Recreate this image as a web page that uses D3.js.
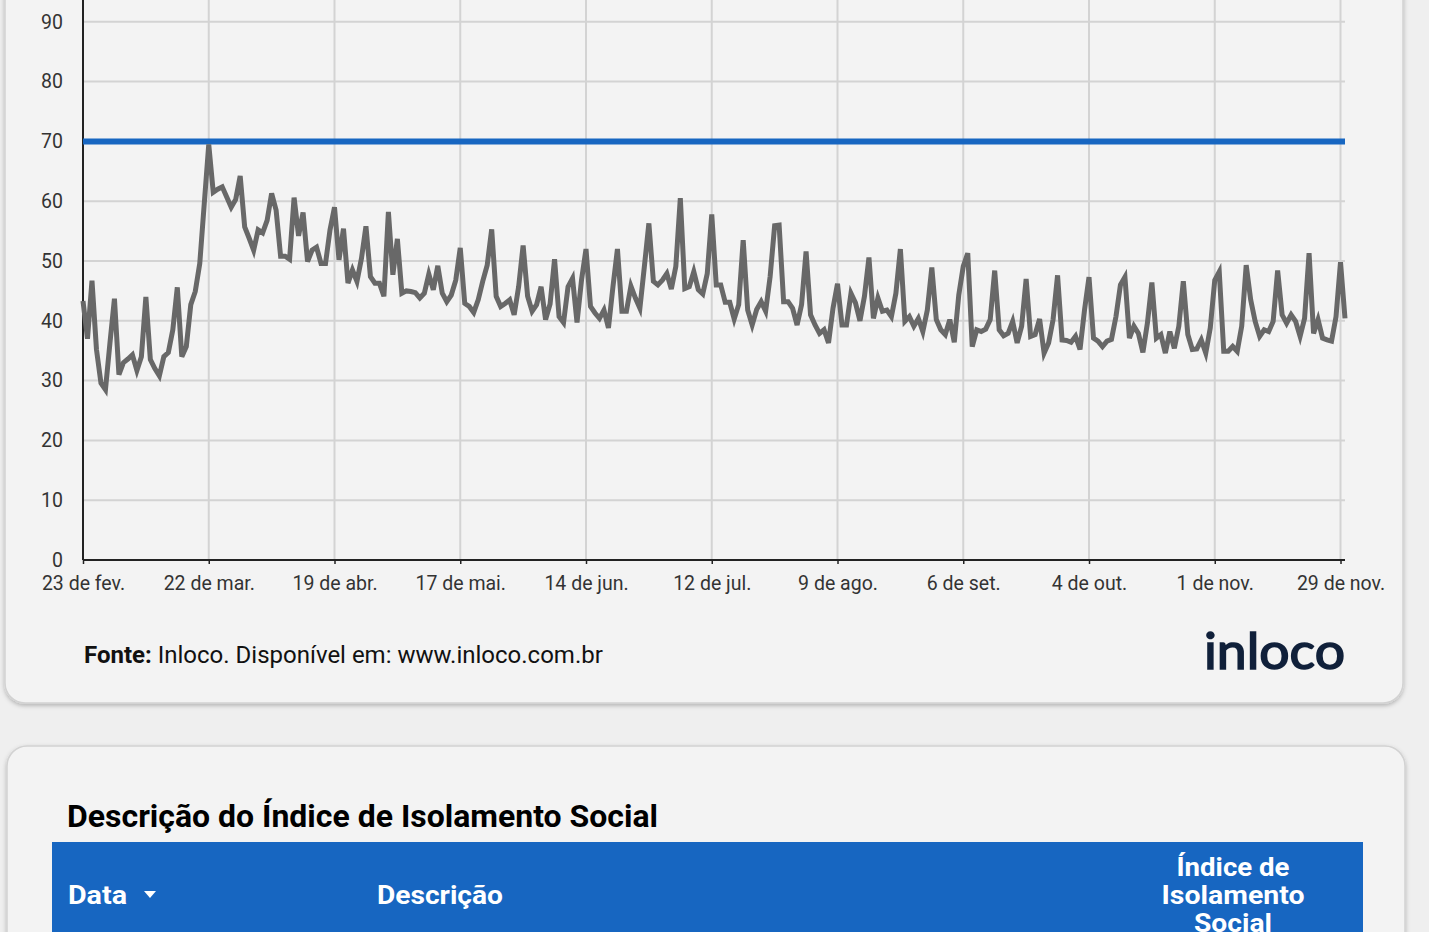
<!DOCTYPE html>
<html>
<head>
<meta charset="utf-8">
<script src="https://cdn.jsdelivr.net/npm/d3@7"></script>
<style>
  body { margin: 0; background: #efefef; overflow: hidden; }
  svg { display: block; font-family: Roboto, "Noto Sans", sans-serif; }
</style>
</head>
<body>
<svg id="chart"></svg>
<script>
// daily isolation index, starting 23 Feb 2020
var startDay = "2020-02-23";
var isolationValues = [
  43.3, 37, 46.7, 35.2, 29.6, 28.5, 36.3, 43.7, 31, 33,
  33.6, 34.3, 31.7, 34, 44, 33.5, 32, 30.8, 34, 34.7,
  38.5, 45.6, 34, 35.7, 42.7, 44.9, 49.6, 59.6, 69.5, 61.5,
  62, 62.4, 60.7, 59, 60.3, 64.2,
  55.7, 53.8, 51.8, 55.2, 54.7, 56.8, 61.3, 58.5, 50.8, 50.8,
  50.3, 60.6, 54.2, 58.1, 49.9, 51.8, 52.3, 49.6, 49.6, 55.2,
  59, 50.2, 55.4, 46.3, 48.5, 46.6, 50.4, 55.8, 47.4, 46.3,
  46.3, 44.1, 58.2, 47.7,
  53.7, 44.6, 45, 44.9, 44.7, 43.8, 44.6, 47.8, 45.2, 49.2,
  44.6, 43.2, 44.3, 46.8, 52.2, 42.9, 42.4, 41.4, 43.5, 46.6,
  49.3, 55.3, 44.1, 42.4, 42.9, 43.5, 41, 45.7, 52.6, 44.1,
  41.6, 42.7, 45.7, 40.2, 42.8,
  50.3, 40.7, 39.7, 45.7, 47.1, 39.7, 46.8, 52, 42.4, 41.3,
  40.4, 41.8, 38.8, 45.7, 52, 41.6, 41.6, 45.8, 43.8, 42.1,
  49.1, 56.3, 46.6, 46, 46.8, 47.9, 45.3, 49.1, 60.5, 45.4,
  45.7, 48.2, 45.2, 44.5,
  47.9, 57.8, 46, 46, 43.1, 43.1, 40.3, 42.7, 53.5, 41.8,
  39.3, 41.9, 43.2, 41.6, 47.4, 55.9, 56, 43.2, 43.2, 42.1,
  39.3, 42.7, 51.6, 41, 39.3, 37.9, 38.5, 36.3, 42.1, 46.2,
  39.3, 39.3, 44.6, 43, 40,
  44.1, 50.6, 40.4, 43.8, 41.6, 41.8, 40.7, 44.6, 52, 39.9,
  40.7, 39.1, 40.4, 38.2, 41.8, 48.9, 40.2, 38.5, 37.7, 40.2,
  36.4, 44.3, 49.1, 51.3, 35.7, 38.5, 38.2, 38.6, 40.2, 48.4,
  38.5, 37.5, 37.9, 39.9,
  36.3, 39.1, 47, 37.4, 37.7, 40.3, 34.6, 36.3, 40.2, 47.6,
  36.8, 36.7, 36.4, 37.4, 35.2, 41.8, 47.3, 37.1, 36.6, 35.7,
  36.6, 36.9, 40.7, 46, 47.3, 37.1, 39.1, 37.9, 34.7, 39.6,
  46.4, 37.1, 37.7, 34.6,
  38.2, 35.4, 39.1, 46.6, 37.7, 35.2, 35.3, 36.8, 34.6, 38.8,
  46.8, 48.2, 34.9, 34.9, 35.7, 34.9, 39.1, 49.3, 43.5, 39.9,
  37.4, 38.5, 38.2, 39.9, 48.4, 41, 39.6, 41, 39.9, 37.4,
  40.4, 51.3, 37.9, 40.2, 37.1, 36.8, 36.6, 40.7, 49.8, 40.4
];
var targetValue = 70;
var tickDays = ["2020-02-23", "2020-03-22", "2020-04-19", "2020-05-17", "2020-06-14", "2020-07-12",
                "2020-08-09", "2020-09-06", "2020-10-04", "2020-11-01", "2020-11-29"];
var tickLabels = ["23 de fev.", "22 de mar.", "19 de abr.", "17 de mai.", "14 de jun.", "12 de jul.",
                  "9 de ago.", "6 de set.", "4 de out.", "1 de nov.", "29 de nov."];
var yTicks = [0, 10, 20, 30, 40, 50, 60, 70, 80, 90];
var sourceBold = "Fonte:";
var sourceText = " Inloco. Disponível em: www.inloco.com.br";
var tableTitle = "Descrição do Índice de Isolamento Social";
var headerCols = ["Data", "Descrição"];
var headerIndex = ["Índice de", "Isolamento", "Social"];

var screen = {width: 1429, height: 932};
var plot = {left: 83, right: 1345, top: -38, bottom: 560};

var parse = d3.timeParse("%Y-%m-%d");
var t0 = parse(startDay);
var series = isolationValues.map(function(v, i){
    return {date: d3.timeDay.offset(t0, i), value: v};
});

var svg = d3.select("#chart")
    .attr("width", screen.width)
    .attr("height", screen.height);

var defs = svg.append("defs");
var shadow = defs.append("filter").attr("id", "shadow")
    .attr("x", "-5%").attr("y", "-5%").attr("width", "110%").attr("height", "115%");
shadow.append("feDropShadow")
    .attr("dx", 0).attr("dy", 2).attr("stdDeviation", 2)
    .attr("flood-color", "#000").attr("flood-opacity", 0.25);

// cards
svg.append("rect")
    .attr("x", 5).attr("y", -60).attr("width", 1398).attr("height", 763)
    .attr("rx", 20)
    .attr("fill", "#f3f3f3").attr("stroke", "#d2d2d2").attr("stroke-width", 1.5)
    .attr("filter", "url(#shadow)");
svg.append("rect")
    .attr("x", 7).attr("y", 746).attr("width", 1398).attr("height", 260)
    .attr("rx", 20)
    .attr("fill", "#f3f3f3").attr("stroke", "#d2d2d2").attr("stroke-width", 1.5)
    .attr("filter", "url(#shadow)");

var xScale = d3.scaleTime()
    .domain([t0, series[series.length - 1].date])
    .range([plot.left, plot.right]);
var yScale = d3.scaleLinear()
    .domain([0, 100])
    .range([plot.bottom, plot.top]);

var tickDates = tickDays.map(parse);

// grid
var grid = svg.append("g").attr("id", "grid");
grid.selectAll("line.h")
    .data(yTicks.slice(1).concat([100]))
    .enter().append("line")
    .attr("class", "h")
    .attr("x1", plot.left).attr("x2", plot.right)
    .attr("y1", function(d){ return yScale(d); })
    .attr("y2", function(d){ return yScale(d); })
    .attr("stroke", "#d3d3d3").attr("stroke-width", 2);
grid.selectAll("line.v")
    .data(tickDates.slice(1))
    .enter().append("line")
    .attr("class", "v")
    .attr("x1", function(d){ return xScale(d); })
    .attr("x2", function(d){ return xScale(d); })
    .attr("y1", plot.top).attr("y2", plot.bottom)
    .attr("stroke", "#d3d3d3").attr("stroke-width", 2);

// axes
var xAxis = d3.axisBottom(xScale)
    .tickValues(tickDates)
    .tickSize(4)
    .tickPadding(12)
    .tickFormat(function(d, i){ return tickLabels[i]; });
var yAxis = d3.axisLeft(yScale)
    .tickValues(yTicks)
    .tickSize(0)
    .tickPadding(20);

var gx = svg.append("g")
    .attr("transform", "translate(0," + plot.bottom + ")")
    .call(xAxis);
gx.select(".domain").attr("stroke", "#222").attr("stroke-width", 2)
    .attr("d", "M" + plot.left + ",0H" + plot.right);
gx.selectAll(".tick line").attr("stroke", "#222").attr("stroke-width", 1.5);
gx.selectAll("text").attr("font-size", 19.5).attr("fill", "#333")
    .attr("font-family", "Roboto");

var gy = svg.append("g")
    .attr("transform", "translate(" + plot.left + ",0)")
    .call(yAxis);
gy.select(".domain").attr("stroke", "#222").attr("stroke-width", 2)
    .attr("d", "M0," + plot.top + "V" + plot.bottom);
gy.selectAll("text").attr("font-size", 19.5).attr("fill", "#333")
    .attr("font-family", "Roboto");

// target line
svg.append("line")
    .attr("x1", plot.left).attr("x2", plot.right)
    .attr("y1", yScale(targetValue)).attr("y2", yScale(targetValue))
    .attr("stroke", "#1766c1").attr("stroke-width", 6);

// isolation series
var lineGen = d3.line()
    .x(function(d){ return xScale(d.date); })
    .y(function(d){ return yScale(d.value); });
svg.append("path")
    .datum(series)
    .attr("d", lineGen)
    .attr("fill", "none")
    .attr("stroke", "#686868")
    .attr("stroke-width", 5)
    .attr("stroke-linejoin", "miter");

// source line
var src = svg.append("text")
    .attr("x", 84).attr("y", 663)
    .attr("font-size", 24).attr("fill", "#111");
src.append("tspan").attr("font-weight", "bold").text(sourceBold);
src.append("tspan").text(sourceText);

svg.append("text")
    .attr("x", 1345).attr("y", 669)
    .attr("text-anchor", "end")
    .attr("font-family", "Lato, Roboto, sans-serif")
    .attr("font-size", 50).attr("font-weight", "normal")
    .attr("fill", "#10203a").attr("stroke", "#10203a").attr("stroke-width", 1.6)
    .attr("textLength", 141).attr("lengthAdjust", "spacingAndGlyphs")
    .text("inloco");

// table section
svg.append("text")
    .attr("x", 67).attr("y", 827)
    .attr("font-size", 31).attr("font-weight", "bold").attr("fill", "#000")
    .attr("textLength", 591).attr("lengthAdjust", "spacingAndGlyphs")
    .text(tableTitle);

svg.append("rect")
    .attr("x", 52).attr("y", 842).attr("width", 1311).attr("height", 120)
    .attr("fill", "#1766c1");

var hx = [68, 377];
var hw = [59, 126];
svg.selectAll("text.hcol")
    .data(headerCols)
    .enter().append("text")
    .attr("class", "hcol")
    .attr("x", function(d, i){ return hx[i]; })
    .attr("y", 904)
    .attr("font-size", 26).attr("font-weight", "bold").attr("fill", "#fff")
    .attr("textLength", function(d, i){ return hw[i]; })
    .attr("lengthAdjust", "spacingAndGlyphs")
    .text(function(d){ return d; });

svg.append("path")
    .attr("d", "M144,891 L156,891 L150,898 Z")
    .attr("fill", "#fff");

var iw = [113, 143, 78];
svg.selectAll("text.hidx")
    .data(headerIndex)
    .enter().append("text")
    .attr("class", "hidx")
    .attr("x", 1233)
    .attr("y", function(d, i){ return 876 + i * 28; })
    .attr("text-anchor", "middle")
    .attr("font-size", 26).attr("font-weight", "bold").attr("fill", "#fff")
    .attr("textLength", function(d, i){ return iw[i]; })
    .attr("lengthAdjust", "spacingAndGlyphs")
    .text(function(d){ return d; });
</script>
</body>
</html>
